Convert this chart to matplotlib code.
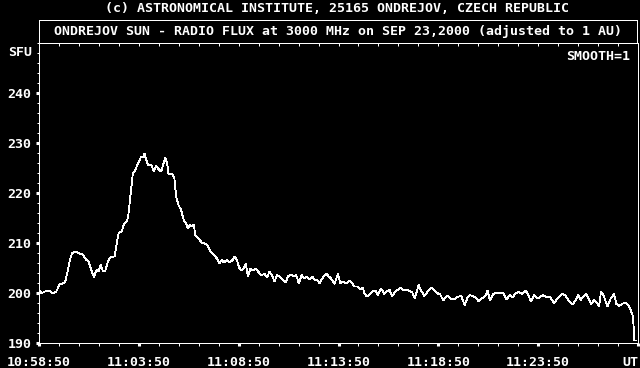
import matplotlib
matplotlib.use('Agg')
import matplotlib.pyplot as plt
from matplotlib.ticker import FixedLocator, MultipleLocator

# seconds after 10:58:50 UT
t_sec = [0, 7, 17, 32, 42, 52, 62, 72, 79, 87, 94, 99, 109, 122, 132, 142, 149, 157,
         165, 173, 180, 185, 192, 199, 207, 215, 227, 233, 239, 249, 255, 265, 269,
         275, 282, 289, 295, 302, 307, 312, 317, 322, 329, 337, 345, 352, 359, 367,
         373, 379, 385, 389, 402, 407, 412, 419, 427, 435, 442, 447, 453, 459, 465,
         470, 479, 489, 497, 507, 515, 525, 535, 542, 549, 555, 565, 572, 582, 587,
         595, 601, 608, 615, 621, 628, 635, 643, 651, 658, 668, 678, 685, 693, 701,
         708, 715, 723, 731, 741, 748, 758, 765, 773, 781, 789, 798, 805, 813, 821,
         828, 835, 843, 851, 863, 871, 878, 888, 898, 906, 913, 923, 933, 941, 948,
         958, 965, 973, 978, 985, 993, 1001, 1011, 1018, 1028, 1038, 1045, 1053, 1061,
         1071, 1078, 1085, 1095, 1103, 1113, 1121, 1129, 1141, 1148, 1158, 1168, 1181,
         1191, 1201, 1205, 1215, 1225, 1231, 1239, 1251, 1261, 1269, 1279, 1288, 1295,
         1305, 1313, 1321, 1331, 1341, 1348, 1355, 1365, 1375, 1388, 1395, 1405, 1415,
         1423, 1431, 1441, 1451, 1461, 1469, 1478, 1488, 1498, 1508, 1515, 1525, 1535,
         1548, 1558, 1571, 1581, 1591, 1603, 1613, 1621, 1628, 1635, 1645, 1653, 1660,
         1668, 1675, 1683, 1689, 1698, 1708, 1718, 1728, 1735, 1743, 1751, 1763, 1771,
         1778, 1785, 1787, 1789, 1795]
sfu = [200.8, 199.9, 200.3, 200.5, 199.9, 200.3, 201.7, 201.9, 202.3, 204.6, 206.9,
       207.9, 208.3, 207.9, 207.7, 206.6, 206.3, 204.6, 203.2, 204.6, 204.4, 205.7,
       204.4, 204.4, 206.3, 207.2, 207.3, 209.6, 211.9, 212.4, 213.7, 214.4, 215.9,
       219.6, 223.9, 224.6, 225.5, 226.6, 227.3, 227.1, 227.9, 226.6, 225.5, 225.7,
       224.3, 225.5, 224.8, 224.3, 225.6, 227.1, 226.0, 223.9, 223.7, 222.9, 219.3,
       217.6, 216.6, 214.6, 213.9, 212.9, 213.6, 213.3, 213.7, 211.5, 210.9, 210.1,
       209.9, 209.5, 208.3, 207.6, 206.9, 205.9, 206.6, 206.1, 206.6, 206.1, 206.6,
       207.3, 206.6, 205.1, 204.6, 204.9, 205.9, 203.3, 204.9, 204.5, 204.9, 204.3,
       203.6, 203.8, 203.1, 204.3, 203.4, 202.3, 203.6, 203.3, 202.7, 202.1, 203.3,
       203.7, 203.3, 203.6, 201.9, 203.6, 202.9, 203.3, 202.7, 203.3, 202.6, 202.7,
       201.9, 202.9, 203.9, 203.3, 202.9, 201.8, 203.8, 201.9, 202.3, 201.9, 202.5,
       201.9, 201.3, 201.3, 200.7, 201.1, 199.9, 199.3, 199.6, 200.3, 200.5, 199.6,
       200.9, 199.8, 200.3, 200.7, 199.4, 200.3, 200.6, 201.1, 200.6, 200.7, 200.4,
       200.2, 198.9, 201.6, 200.5, 199.4, 200.3, 201.1, 200.3, 199.8, 199.8, 198.5,
       199.4, 199.3, 198.7, 198.9, 199.3, 199.4, 197.6, 199.1, 199.6, 199.3, 199.1,
       198.3, 198.9, 199.4, 200.5, 198.5, 199.8, 200.1, 199.9, 200.1, 198.7, 199.6,
       199.1, 199.8, 200.3, 199.8, 200.5, 199.9, 198.3, 199.6, 198.9, 199.3, 199.6,
       199.1, 199.3, 197.9, 198.9, 199.8, 199.6, 198.5, 197.7, 198.6, 199.6, 198.6,
       199.3, 199.8, 198.6, 197.8, 198.7, 198.1, 197.4, 200.3, 199.3, 197.3, 198.9,
       199.8, 197.8, 197.4, 197.8, 198.1, 197.6, 196.6, 195.3, 192.9, 190.5, 190.5]

time_ticks = [0, 300, 600, 900, 1200, 1500, 1800]
time_labels = ['10:58:50', '11:03:50', '11:08:50', '11:13:50', '11:18:50', '11:23:50', 'UT']
sfu_ticks = [190, 200, 210, 220, 230, 240]

W, H = 640, 368
font = dict(family='DejaVu Sans Mono', weight='bold', size=9.5, color='white')

fig = plt.figure(figsize=(W / 100, H / 100), dpi=100, facecolor='black')

ax = fig.add_axes([39 / W, 25 / H, 599 / W, 300 / H], facecolor='black')
ax.plot(t_sec, sfu, color='white', lw=0.6, antialiased=False)
ax.set_xlim(0, 1800)
ax.set_ylim(190, 250)
for s in ax.spines.values():
    s.set_color('white')
    s.set_linewidth(0.72)

ax.xaxis.set_major_locator(FixedLocator(time_ticks))
ax.xaxis.set_minor_locator(MultipleLocator(60))
ax.set_xticklabels(time_labels, fontdict=font)
ax.get_xticklabels()[-1].set_ha('right')
ax.yaxis.set_major_locator(FixedLocator(sfu_ticks))
ax.yaxis.set_minor_locator(MultipleLocator(2))
ax.set_yticklabels([str(v) for v in sfu_ticks], fontdict=font)

ax.tick_params(which='major', color='white', length=2.5, width=2.2, direction='out')
ax.tick_params(which='minor', color='white', length=1.8, width=0.72, direction='out')
ax.tick_params(axis='x', pad=7)
ax.tick_params(axis='y', pad=3)

# ticks hanging from the top frame
top = ax.secondary_xaxis('top')
top.xaxis.set_major_locator(MultipleLocator(60))
top.tick_params(color='white', length=2, width=0.72, direction='in', labeltop=False)
top.spines['top'].set_color('white')
top.spines['top'].set_linewidth(0.72)

ax.annotate('SFU', xy=(0, 248), xycoords=('axes fraction', 'data'),
            xytext=(-7, 0), textcoords='offset pixels', ha='right', va='center', **font)
ax.annotate('SMOOTH=1', xy=(1, 1), xycoords='axes fraction',
            xytext=(-8, -14), textcoords='offset pixels', ha='right', va='center', **font)

# title box
tax = fig.add_axes([39 / W, (H - 43) / H, 598 / W, 23 / H], facecolor='black')
tax.set_xticks([])
tax.set_yticks([])
for s in tax.spines.values():
    s.set_color('white')
    s.set_linewidth(0.72)
tax.text(0.5, 0.5, 'ONDREJOV SUN - RADIO FLUX at 3000 MHz on SEP 23,2000 (adjusted to 1 AU)',
         ha='center', va='center', transform=tax.transAxes, **font)

fig.text(337 / W, 1 - 8 / H, '(c) ASTRONOMICAL INSTITUTE, 25165 ONDREJOV, CZECH REPUBLIC',
         ha='center', va='center', **font)

fig.savefig('out.png', dpi=100, facecolor='black')
